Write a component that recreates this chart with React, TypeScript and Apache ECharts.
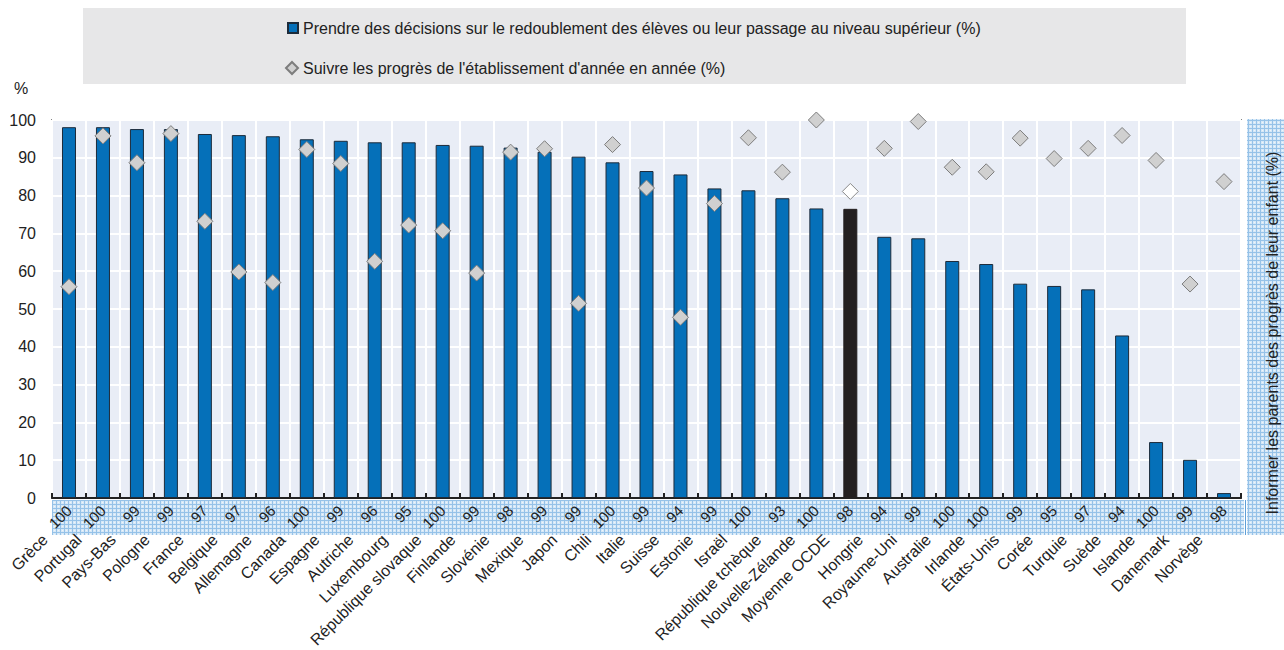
import React, { useEffect, useRef } from "react";
import * as echarts from "echarts";

const countries = [
  "Grèce", "Portugal", "Pays-Bas", "Pologne", "France", "Belgique", "Allemagne", "Canada",
  "Espagne", "Autriche", "Luxembourg", "République slovaque", "Finlande", "Slovénie", "Mexique",
  "Japon", "Chili", "Italie", "Suisse", "Estonie", "Israël", "République tchèque",
  "Nouvelle-Zélande", "Moyenne OCDE", "Hongrie", "Royaume-Uni", "Australie", "Irlande",
  "États-Unis", "Corée", "Turquie", "Suède", "Islande", "Danemark", "Norvège",
];

const decisions = [
  98.1, 98.1, 97.6, 97.6, 96.3, 96.0, 95.7, 94.9, 94.5, 94.1, 94.1, 93.4, 93.2, 92.7, 91.6,
  90.3, 88.8, 86.5, 85.6, 81.9, 81.4, 79.3, 76.6, 76.5, 69.1, 68.7, 62.7, 61.9, 56.7, 56.1,
  55.2, 43.0, 14.8, 10.1, 1.3,
];

const progress = [
  55.9, 95.8, 88.7, 96.4, 73.2, 59.8, 57.0, 92.2, 88.5, 62.6, 72.2, 70.7, 59.5, 91.5, 92.4,
  51.5, 93.5, 82.0, 47.8, 77.9, 95.3, 86.2, 100, 81.1, 92.5, 99.6, 87.5, 86.3, 95.2, 89.8,
  92.5, 95.9, 89.3, 56.6, 83.7,
];

const parents = [
  100, 100, 99, 99, 97, 97, 96, 100, 99, 96, 95, 100, 99, 98, 99, 99, 100, 99, 94, 99, 100,
  93, 100, 98, 94, 99, 100, 100, 99, 95, 97, 94, 100, 99, 98,
];

const yTicks = [0, 10, 20, 30, 40, 50, 60, 70, 80, 90, 100];

const serieDecisions =
  "Prendre des décisions sur le redoublement des élèves ou leur passage au niveau supérieur (%)";
const serieProgress = "Suivre les progrès de l'établissement d'année en année (%)";
const rightTitle = "Informer les parents des progrès de leur enfant (%)";
const AVG = "Moyenne OCDE";

const FONT = "Liberation Sans, Arial, sans-serif";

export default function App() {
  const ref = useRef<HTMLDivElement>(null);

  useEffect(() => {
    document.body.style.margin = "0";
    if (!ref.current) return;
    const chart = echarts.init(ref.current, null, { renderer: "svg" });

    const cv = document.createElement("canvas");
    cv.width = 4;
    cv.height = 4;
    const ctx = cv.getContext("2d");
    if (ctx) {
      ctx.fillStyle = "#d6e8f7";
      ctx.fillRect(0, 0, 4, 4);
      ctx.fillStyle = "#96c2e8";
      ctx.fillRect(0, 0, 4, 1);
      ctx.fillRect(0, 0, 1, 4);
      ctx.fillStyle = "#eef5fb";
      ctx.fillRect(2, 2, 1, 1);
    }
    const pattern: any = { image: cv, repeat: "repeat", imageWidth: 4, imageHeight: 4 };

    const barData = decisions.map((v, i) =>
      countries[i] === AVG
        ? { value: v, itemStyle: { color: "#231f20", borderColor: "#231f20" } }
        : v
    );
    const scatterData = progress.map((v, i) =>
      countries[i] === AVG
        ? { value: v, itemStyle: { color: "#ffffff", borderColor: "#8a8a8a" } }
        : v
    );

    const option: any = {
      animation: false,
      textStyle: { fontFamily: FONT },
      grid: {
        left: 52,
        right: 43,
        top: 120,
        bottom: 152,
        show: true,
        backgroundColor: "#e9edf6",
        borderColor: "#222",
        borderWidth: 1.5,
        containLabel: false,
        outerBoundsMode: "none",
      },
      graphic: [
        {
          type: "rect",
          z: -10,
          shape: { x: 83, y: 8, width: 1103, height: 76 },
          style: { fill: "#e7e7e8" },
        },
        {
          type: "rect",
          z: -10,
          shape: { x: 52, y: 500, width: 1192, height: 35 },
          style: { fill: pattern },
        },
        {
          type: "rect",
          z: -10,
          shape: { x: 1247, y: 119, width: 37, height: 416 },
          style: { fill: pattern },
        },
        {
          type: "line",
          z: -9,
          shape: { x1: 1245.5, y1: 500, x2: 1245.5, y2: 535 },
          style: { stroke: "#5f9fd6", lineWidth: 1 },
        },
        {
          type: "text",
          x: 1272,
          y: 333,
          rotation: Math.PI / 2,
          style: {
            text: rightTitle,
            align: "center",
            verticalAlign: "middle",
            fontSize: 16,
            fontFamily: FONT,
            fill: "#222",
          },
        },
        {
          type: "text",
          x: 14,
          y: 80,
          style: { text: "%", fontSize: 16, fontFamily: FONT, fill: "#222" },
        },
      ],
      legend: [
        {
          data: [serieDecisions],
          left: 282,
          top: 15,
          icon: "rect",
          itemWidth: 10,
          itemHeight: 10,
          textStyle: { fontSize: 16, color: "#222", fontFamily: FONT },
        },
        {
          data: [serieProgress],
          left: 280,
          top: 55,
          icon: "diamond",
          itemWidth: 12,
          itemHeight: 12,
          textStyle: { fontSize: 16, color: "#222", fontFamily: FONT },
        },
      ],
      xAxis: [
        {
          type: "category",
          data: countries,
          position: "bottom",
          boundaryGap: true,
          axisLine: { show: true, lineStyle: { color: "#222", width: 2 } },
          axisTick: { show: true, inside: true, length: 5, lineStyle: { color: "#222", width: 2 } },
          splitLine: { show: true, interval: 0, lineStyle: { color: "#ffffff", width: 2 } },
          axisLabel: {
            interval: 0,
            rotate: 45,
            margin: 15,
            padding: [0, 34, 0, 0],
            fontSize: 16,
            color: "#222",
            fontFamily: FONT,
          },
        },
        {
          type: "category",
          data: countries,
          position: "bottom",
          offset: 0,
          boundaryGap: true,
          axisLine: { show: false },
          axisTick: { show: false },
          splitLine: { show: false },
          axisLabel: {
            interval: 0,
            rotate: 45,
            margin: 10,
            fontSize: 15,
            color: "#222",
            fontFamily: FONT,
            formatter: (_v: string, i: number) => String(parents[i]),
          },
        },
      ],
      yAxis: {
        type: "value",
        min: yTicks[0],
        max: yTicks[yTicks.length - 1],
        interval: 10,
        axisLine: { show: false },
        axisTick: { show: false },
        splitLine: { show: true, lineStyle: { color: "#ffffff", width: 2 } },
        axisLabel: { fontSize: 16, color: "#222", margin: 16, fontFamily: FONT },
      },
      series: [
        {
          name: serieDecisions,
          type: "bar",
          xAxisIndex: 0,
          data: barData,
          barWidth: 14,
          itemStyle: { color: "#0570b9", borderColor: "#1d2b3a", borderWidth: 1 },
        },
        {
          name: serieProgress,
          type: "scatter",
          xAxisIndex: 0,
          data: scatterData,
          symbol: "diamond",
          symbolSize: 16,
          z: 5,
          itemStyle: { color: "#d0d0d0", borderColor: "#7d7d7d", borderWidth: 1, opacity: 1 },
        },
      ],
    };

    chart.setOption(option);
    return () => chart.dispose();
  }, []);

  return <div ref={ref} style={{ width: 1284, height: 650 }} />;
}
